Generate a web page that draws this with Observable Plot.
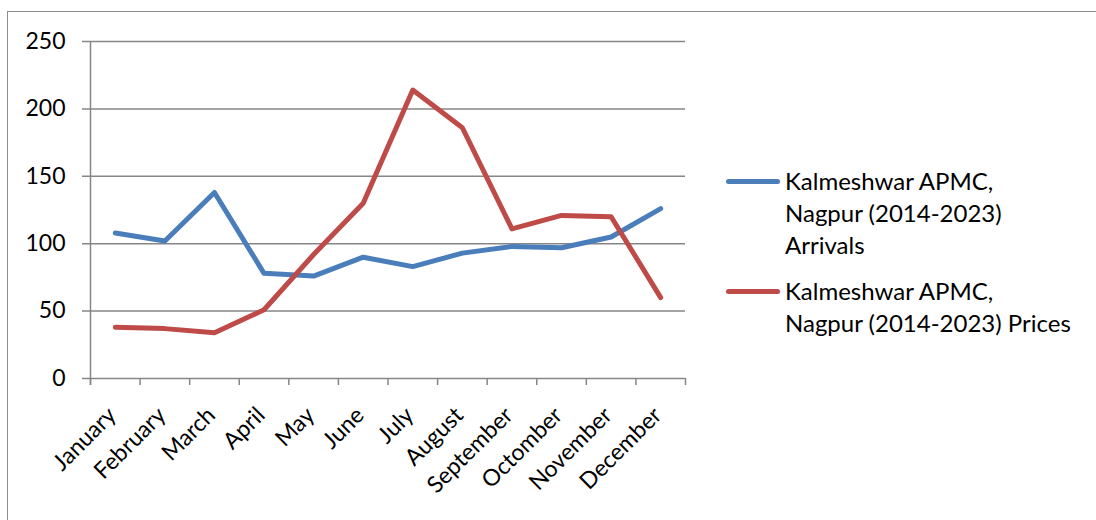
<!DOCTYPE html>
<html>
<head>
<meta charset="utf-8">
<script src="https://cdn.jsdelivr.net/npm/d3@7"></script>
<script src="https://cdn.jsdelivr.net/npm/@observablehq/plot@0.6"></script>
<style>
  html, body { margin: 0; padding: 0; background: #fff; }
  body { width: 1096px; height: 520px; position: relative; overflow: hidden; font-family: Lato, "Open Sans", sans-serif; }
  #frame { position: absolute; left: 7px; top: 11px; width: 1200px; height: 600px; border-left: 1.5px solid #8c8c8c; border-top: 1.5px solid #8c8c8c; }
  #chart { position: absolute; left: 0; top: 0; }
  .leg { position: absolute; left: 726px; font-size: 24px; color: #000; }
  .leg .sw { position: absolute; left: 0; width: 54px; height: 5px; border-radius: 3px; }
  .leg .tx { position: absolute; left: 59px; line-height: 32px; white-space: nowrap; }
</style>
</head>
<body>
<div id="frame"></div>
<div id="chart"></div>
<div class="leg" id="leg1" style="top:165px"><div class="sw" style="top:14px;background:#4a7ebb"></div><div class="tx">Kalmeshwar APMC,<br>Nagpur (2014-2023)<br>Arrivals</div></div>
<div class="leg" id="leg2" style="top:275px"><div class="sw" style="top:14px;background:#be4b48"></div><div class="tx">Kalmeshwar APMC,<br>Nagpur (2014-2023) Prices</div></div>
<script>
const months = ["January","February","March","April","May","June","July","August","September","Octomber","November","December"];
const arrivals = [108, 102, 138, 78, 76, 90, 83, 93, 98, 97, 105, 126];
const prices = [38, 37, 34, 51, 92, 130, 214, 186, 111, 121, 120, 60];
const yTicks = [0, 50, 100, 150, 200, 250];
const seriesNames = ["Arrivals", "Prices"];
const colors = ["#4a7ebb", "#be4b48"];

const rows = [];
months.forEach((m, i) => {
  rows.push({i, month: m, value: arrivals[i], series: seriesNames[0]});
  rows.push({i, month: m, value: prices[i], series: seriesNames[1]});
});
const monthRows = months.map((m, i) => ({i, month: m}));

const grid = "#868686";
const chart = Plot.plot({
  width: 1096,
  height: 520,
  marginLeft: 90,
  marginRight: 411,
  marginTop: 41,
  marginBottom: 142,
  style: {fontFamily: "Lato, 'Open Sans', sans-serif", background: "transparent"},
  x: {type: "linear", domain: [0, 12], axis: null},
  y: {type: "linear", domain: [0, 250], axis: null},
  color: {domain: seriesNames, range: colors},
  marks: [
    Plot.ruleY(yTicks, {y: d => d, stroke: grid, strokeWidth: 1.5, x1: 0, x2: 12, insetLeft: -8}),
    Plot.ruleX([0], {x: d => d, stroke: grid, strokeWidth: 1.5, y1: 250, y2: 0, insetBottom: -7}),
    Plot.ruleX(d3.range(13), {x: d => d, y1: 0, y2: 0, insetBottom: -7, stroke: grid, strokeWidth: 1.5}),
    Plot.text(yTicks, {x: 0, y: d => d, text: d => String(d), textAnchor: "end", dx: -25, fontSize: 23, fill: "#000"}),
    Plot.line(rows, {x: d => d.i + 0.5, y: "value", z: "series", stroke: "series", strokeWidth: 5, strokeLinejoin: "round", strokeLinecap: "round"}),
    Plot.text(monthRows, {x: d => d.i + 0.5, y: 0, text: "month", rotate: -45, textAnchor: "end", dx: -3, dy: 33, fontSize: 23, fill: "#000"})
  ]
});
document.getElementById("chart").appendChild(chart);
</script>
</body>
</html>
